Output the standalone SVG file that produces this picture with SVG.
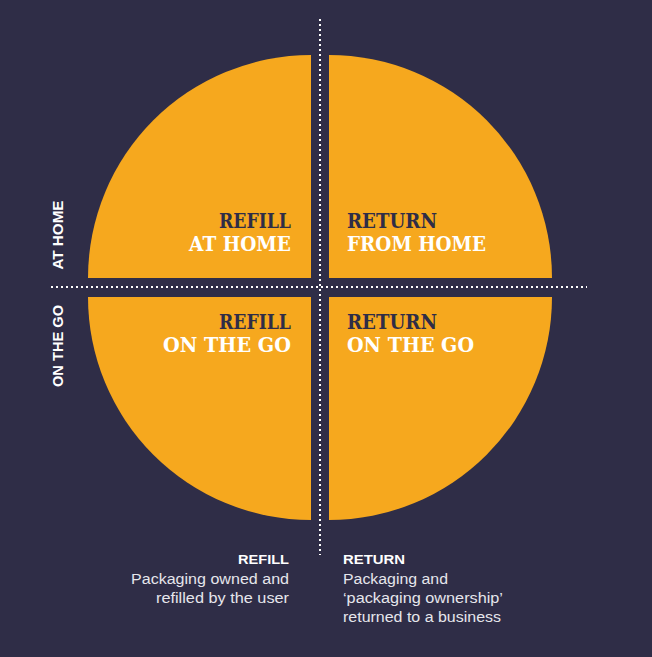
<svg xmlns="http://www.w3.org/2000/svg" width="652" height="657" viewBox="0 0 652 657">
  <style>
    .q { fill: #f6a81e; }
    .dots { stroke: #ffffff; stroke-width: 2; stroke-dasharray: 2 3; fill: none; }
    .lab { font-family: "DejaVu Serif", "Liberation Serif", serif; font-weight: bold; font-size: 21px; }
    .dark { fill: #2f2d47; }
    .light { fill: #ffffff; }
    .side { font-family: "Liberation Sans", "DejaVu Sans", sans-serif; font-weight: bold; font-size: 14px; fill: #ffffff; text-anchor: middle; }
    .head { font-family: "Liberation Sans", "DejaVu Sans", sans-serif; font-weight: bold; font-size: 13.5px; fill: #ffffff; }
    .body { font-family: "Liberation Sans", "Noto Sans", sans-serif; font-size: 14px; fill: #e6e6ec; }
  </style>
  <rect x="0" y="0" width="652" height="657" fill="#2f2d47"/>

  <g id="refill-at-home">
    <path class="q" d="M311,278 L88,278 A223,223 0 0 1 311,55 Z"/>
    <text class="lab dark" x="291" y="228" text-anchor="end" textLength="72" lengthAdjust="spacingAndGlyphs">REFILL</text>
    <text class="lab light" x="291" y="251" text-anchor="end" textLength="102" lengthAdjust="spacingAndGlyphs">AT HOME</text>
  </g>
  <g id="return-from-home">
    <path class="q" d="M329,278 L329,55 A223,223 0 0 1 552,278 Z"/>
    <text class="lab dark" x="347" y="228" textLength="90" lengthAdjust="spacingAndGlyphs">RETURN</text>
    <text class="lab light" x="347" y="251" textLength="139" lengthAdjust="spacingAndGlyphs">FROM HOME</text>
  </g>
  <g id="refill-on-the-go">
    <path class="q" d="M311,297 L311,520 A223,223 0 0 1 88,297 Z"/>
    <text class="lab dark" x="291" y="329" text-anchor="end" textLength="72" lengthAdjust="spacingAndGlyphs">REFILL</text>
    <text class="lab light" x="291" y="352" text-anchor="end" textLength="128" lengthAdjust="spacingAndGlyphs">ON THE GO</text>
  </g>
  <g id="return-on-the-go">
    <path class="q" d="M329,297 L552,297 A223,223 0 0 1 329,520 Z"/>
    <text class="lab dark" x="347" y="329" textLength="90" lengthAdjust="spacingAndGlyphs">RETURN</text>
    <text class="lab light" x="347" y="352" textLength="127" lengthAdjust="spacingAndGlyphs">ON THE GO</text>
  </g>

  <g id="axes">
    <line class="dots" x1="320" y1="19" x2="320" y2="555"/>
    <line class="dots" x1="51" y1="287" x2="587" y2="287"/>
  </g>

  <g id="side-labels">
    <text class="side" transform="translate(63,235) rotate(-90)" textLength="69" lengthAdjust="spacingAndGlyphs">AT HOME</text>
    <text class="side" transform="translate(63,346) rotate(-90)" textLength="82" lengthAdjust="spacingAndGlyphs">ON THE GO</text>
  </g>

  <g id="legend-refill">
    <text class="head" x="289" y="564" text-anchor="end" textLength="51" lengthAdjust="spacingAndGlyphs">REFILL</text>
    <text class="body" x="289" y="584" text-anchor="end" textLength="158" lengthAdjust="spacingAndGlyphs">Packaging owned and</text>
    <text class="body" x="289" y="603" text-anchor="end" textLength="133" lengthAdjust="spacingAndGlyphs">refilled by the user</text>
  </g>
  <g id="legend-return">
    <text class="head" x="343" y="564" textLength="62" lengthAdjust="spacingAndGlyphs">RETURN</text>
    <text class="body" x="343" y="584" textLength="105" lengthAdjust="spacingAndGlyphs">Packaging and</text>
    <text class="body" x="343" y="603" textLength="160" lengthAdjust="spacingAndGlyphs">‘packaging ownership’</text>
    <text class="body" x="343" y="622" textLength="158" lengthAdjust="spacingAndGlyphs">returned to a business</text>
  </g>
</svg>
